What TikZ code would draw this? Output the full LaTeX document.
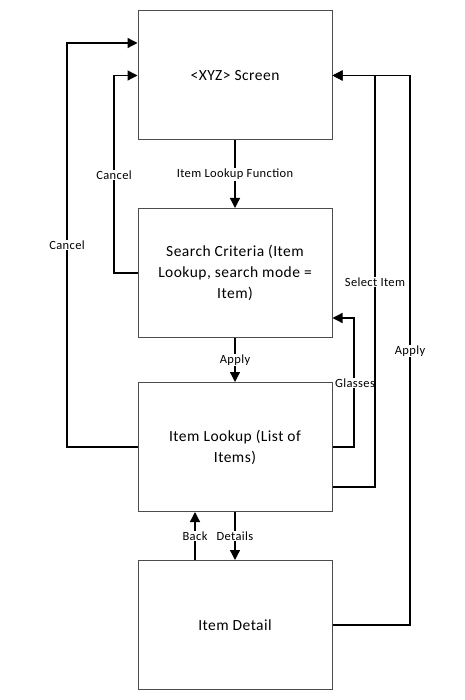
\documentclass[tikz,border=0pt]{standalone}
\usepackage{fontspec}
\setmainfont{Carlito}
\usetikzlibrary{arrows.meta}
\begin{document}
\begin{tikzpicture}[x=1pt,y=-1pt,
  box/.style={draw=black!70,line width=1pt,fill=white,minimum width=194pt,minimum height=129pt,align=center,font=\fontsize{15.5}{21}\selectfont\addfontfeature{LetterSpace=3},inner sep=0pt},
  arr/.style={line width=1.3pt,-{Triangle[length=10pt,width=10pt]}},
  lbl/.style={fill=white,inner sep=1pt,font=\fontsize{12.5}{14}\selectfont\addfontfeature{LetterSpace=3}}]
\useasboundingbox (0,0) rectangle (464,700);
\node[box] (b1) at (235,75.5) {<XYZ> Screen};
\node[box] (b2) at (235,273) {Search Criteria (Item\\Lookup, search mode =\\Item)};
\node[box] (b3) at (235,447) {Item Lookup (List of\\Items)};
\node[box] (b4) at (235,625) {Item Detail};
% Item Lookup Function
\draw[arr] (b1.south) -- (b2.north) node[lbl,midway] {Item Lookup Function};
% Apply
\draw[arr] (b2.south) -- (b3.north) node[lbl,midway] {Apply};
% Details
\draw[arr] (b3.south) -- (b4.north) node[lbl,midway] {Details};
% Back
\draw[arr] (b4.north -| 195,0) -- (b3.south -| 195,0) node[lbl,midway] {Back};
% Cancel inner
\draw[arr] (b2.west) -- (114,273) -- (114,75.5) -- (b1.west);
\node[lbl] (lc1) at (114,175) {Cancel};
% Cancel outer
\draw[arr] (b3.west) -- (67,447) -- (67,43) -- (b1.west |- 0,43);
\node[lbl] (lc2) at (67,245) {Cancel};
% Glasses
\draw[arr] (b3.east) -- (354,447) -- (354,318) -- (b2.east |- 0,318);
\node[lbl] (lg) at (355,383) {Glasses};
% Select Item
\draw[arr] (b3.east |- 0,487) -- (375,487) -- (375,75.5) -- (b1.east);
\node[lbl] (ls) at (375,282) {Select Item};
% Apply right
\draw[arr] (b4.east) -- (410,625) -- (410,75.5) -- (b1.east);
\node[lbl] (la) at (410,351) {Apply};
\end{tikzpicture}
\end{document}
